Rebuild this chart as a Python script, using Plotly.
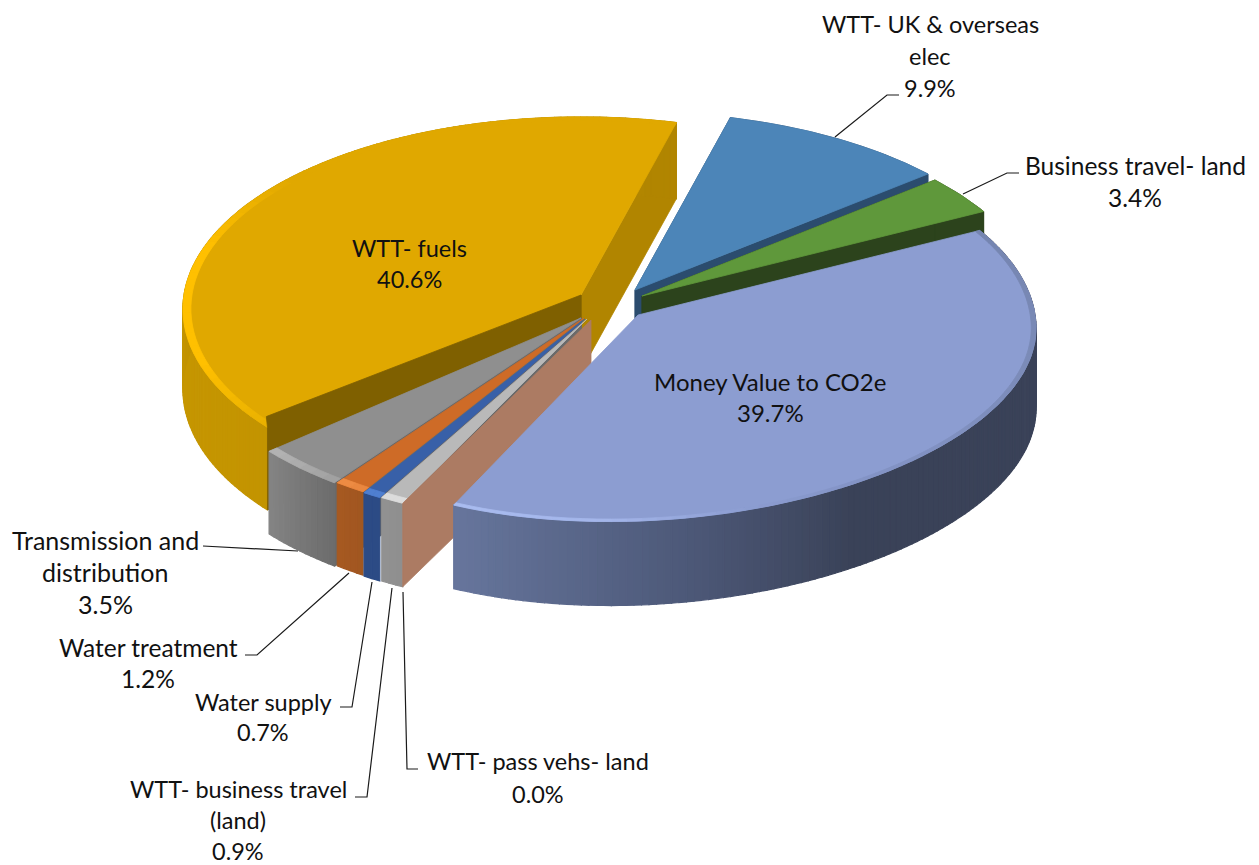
import math
import plotly.graph_objects as go

# ---- data ----
labels = ["WTT- fuels", "WTT- UK & overseas elec", "Business travel- land", "Money Value to CO2e",
          "WTT- pass vehs- land", "WTT- business travel (land)", "Water supply", "Water treatment",
          "Transmission and distribution"]
values = [40.6, 9.9, 3.4, 39.7, 0.0, 0.9, 0.7, 1.2, 3.5]
label_lines = [["WTT- fuels", "40.6%"], ["WTT- UK & overseas", "elec", "9.9%"], ["Business travel- land", "3.4%"],
               ["Money Value to CO2e", "39.7%"], ["WTT- pass vehs- land", "0.0%"],
               ["WTT- business travel", "(land)", "0.9%"], ["Water supply", "0.7%"], ["Water treatment", "1.2%"],
               ["Transmission and", "distribution", "3.5%"]]
top_colors = ["#E0A800", "#4C85B8", "#5F983B", "#8C9DD1", "#AC7B63", "#B9B9B9", "#3860A8", "#CE6B27", "#8F8F8F"]
wall_colors = ["#B18500", "#2B4C6E", "#2C431C", "#8C9DD1", "#AC7B63", "#8F8F8F", "#2C4B85", "#A35720", "#6A6A6A"]
inner_colors = ["#7F6000", "#2B4C6E", "#2C431C", "#8C9DD1", "#AC7B63", "#8F8F8F", "#2C4B85", "#A35720", "#6A6A6A"]

# ---- layout of the exploded 3-D pie (pixels) ----
FIRST = -131.26
R, RY, K = 397.0, 191.0, 0.073
SKEW = 15.0
apex = [(581, 295), (635, 290), (642, 296), (638, 315), (591, 320), (587, 319), (585, 319), (584, 318), (581, 318)]
label_xy = [(409, 248, 31, 23.5), (930, 24, 32, 23.5), (1135, 165, 32, 24.5), (770, 381, 31, 24), (538, 761, 33, 23.5),
            (238, 789, 31, 23.5), (263, 702, 30, 23.5), (148, 647, 31, 24.5), (105, 540, 32, 25)]
leaders = [[(899, 95), (887, 95), (835, 137)], [(1019, 173), (1007, 173), (963, 194)],
           [(203, 546), (298, 551)], [(245, 655), (257, 655), (349, 573)],
           [(340, 707), (352, 707), (372, 582)], [(355, 797), (367, 797), (392, 588)],
           [(418, 769), (407, 769), (403, 592)]]
MONEY = 3


def pt(a, th, r=1.0, z=False):
    t = math.radians(th)
    s, c = math.sin(t), math.cos(t)
    w = 1 + K * c
    y = a[1] - r * RY * c / w + ((80 - 4 * c) if z else 0)
    if a == apex[MONEY] and c < 0:
        y += SKEW * s * c * r
    return (a[0] + r * R * s / w, y)


def lerp(stops, v):
    def rgb(h):
        return [int(h[i:i + 2], 16) for i in (1, 3, 5)]
    stops = sorted(stops)
    if v <= stops[0][0]:
        return stops[0][1]
    for (a, ca), (b, cb) in zip(stops, stops[1:]):
        if v <= b:
            f = (v - a) / (b - a)
            m = [round(x + (y - x) * f) for x, y in zip(rgb(ca), rgb(cb))]
            return "#%02X%02X%02X" % tuple(m)
    return stops[-1][1]


def frange(a, b, n):
    return [a + (b - a) * i / n for i in range(n + 1)]


fig = go.Figure()


def poly(points, color, lw=0.8, name=None):
    fig.add_trace(go.Scatter(x=[p[0] for p in points] + [points[0][0]], y=[p[1] for p in points] + [points[0][1]],
                             mode="lines", fill="toself", fillcolor=color, line=dict(color=color, width=lw),
                             hoverinfo="skip" if name is None else "name", name=name or "", showlegend=False))


# angles from values
angles = []
cur = FIRST
for v in values:
    angles.append((cur, cur + v * 3.6))
    cur += v * 3.6

side_stops = {
    0: [(-132, "#C39400"), (-98, "#C69600"), (-60, "#B88C00"), (15, "#B18500")],
    3: [(60, "#3A4258"), (150, "#3A4258"), (175, "#4E5A7A"), (206, "#67769D")],
    8: [(216, "#6C6C6C"), (229, "#858585")],
    7: [(211, "#A05620"), (217, "#A85A22")],
    6: [(209, "#2C4B85"), (212, "#2C4B85")],
    5: [(206, "#8F8F8F"), (210, "#939393")],
}
bevel = {
    0: ([(-132, "#E8B000"), (-110, "#FFC000"), (-75, "#FFC000"), (-50, "#E0A800")], 0.02),
    3: ([(60, "#7484AF"), (110, "#7C8CB9"), (150, "#8494C6"), (165, "#8C9DD1"), (185, "#A4B6EA"), (206, "#A9BCF0")], 0.012),
    8: ([(216, "#A0A0A0"), (229, "#B5B5B5")], 0.025),
    7: ([(211, "#E8843C"), (217, "#F09048")], 0.025),
    6: ([(209, "#4F7FD0"), (212, "#4F7FD0")], 0.025),
    5: ([(206, "#DCDCDC"), (210, "#DCDCDC")], 0.025),
}
order = [0, 1, 2, 8, 7, 6, 5, 4, 3]

for i in order:
    a0, a1 = angles[i]
    ap = apex[i]
    # cut walls
    if i == 4:  # zero share slice: only its cut face shows
        poly([pt(apex[5], a0), ap, pt(ap, a0, 0, True), pt(apex[5], a0, 1, True)], top_colors[i], name=labels[i])
        continue
    if i == 0:
        poly([ap, pt(ap, a1), pt(ap, a1, 1, True), pt(ap, a1, 0, True)], wall_colors[i])
        poly([ap, pt(ap, a0), pt(ap, a0, 1, True), pt(ap, a0, 0, True)], inner_colors[i])
    elif i in (1, 2):
        poly([ap, pt(ap, a0), pt(ap, a0, 1, True), pt(ap, a0, 0, True)], wall_colors[i])
        poly([ap, pt(ap, a1), pt(ap, a1, 1, True), pt(ap, a1, 0, True)], wall_colors[i])
    elif i == 8:
        poly([ap, pt(ap, a0), pt(ap, a0, 1, True), pt(ap, a0, 0, True)], wall_colors[i], lw=2)
    # outer rim, shaded in steps
    if i in side_stops:
        n = max(2, int(a1 - a0))
        th = frange(a0, a1, n)
        for p, q in zip(th, th[1:]):
            tm = (p + q) / 2
            poly([pt(ap, p), pt(ap, q), pt(ap, q, 1, True), pt(ap, p, 1, True)], lerp(side_stops[i], tm), lw=1.2)
    elif i in (1, 2):
        th = frange(a0, a1, 8)
        poly([pt(ap, t) for t in th] + [pt(ap, t, 1, True) for t in reversed(th)], wall_colors[i])
    # top face
    th = frange(a0, a1, max(4, int(a1 - a0)))
    poly([ap] + [pt(ap, t) for t in th], top_colors[i], name=labels[i])
    # bevel along the rim
    if i in bevel:
        stops, b = bevel[i]
        n = max(2, int((a1 - a0) / 2))
        th = frange(a0, a1, n)
        for p, q in zip(th, th[1:]):
            tm = (p + q) / 2
            poly([pt(ap, p), pt(ap, q), pt(ap, q, 1 - b), pt(ap, p, 1 - b)], lerp(stops, tm))
    if i == 0:  # the rounded corner lets more of the inner cut face show
        poly([ap, pt(ap, a0 + 2.5, 0.97), pt(ap, a0), pt(ap, a0, 1, True), pt(ap, a0, 0, True)], inner_colors[i])

shapes = [dict(type="path", xref="x", yref="y", line=dict(color="#1A1A1A", width=1.2),
               path="M" + " L".join(f"{x},{y}" for x, y in l)) for l in leaders]

annotations = []
for lines, (x, y, gap, size) in zip(label_lines, label_xy):
    for j, t in enumerate(lines):
        annotations.append(dict(x=x, y=y + j * gap, xref="x", yref="y", text=t, showarrow=False,
                                xanchor="center", yanchor="middle",
                                font=dict(family="Lato", size=size, color="#111111")))

fig.update_layout(width=1259, height=865, margin=dict(l=0, r=0, t=0, b=0), autosize=False,
                  paper_bgcolor="white", plot_bgcolor="white", showlegend=False,
                  xaxis=dict(range=[0, 1259], visible=False, fixedrange=True),
                  yaxis=dict(range=[865, 0], visible=False, fixedrange=True),
                  shapes=shapes, annotations=annotations)
fig.write_html("out.html", post_script="document.body.style.margin='0';document.body.style.overflow='hidden';",
               config={"displayModeBar": False})
